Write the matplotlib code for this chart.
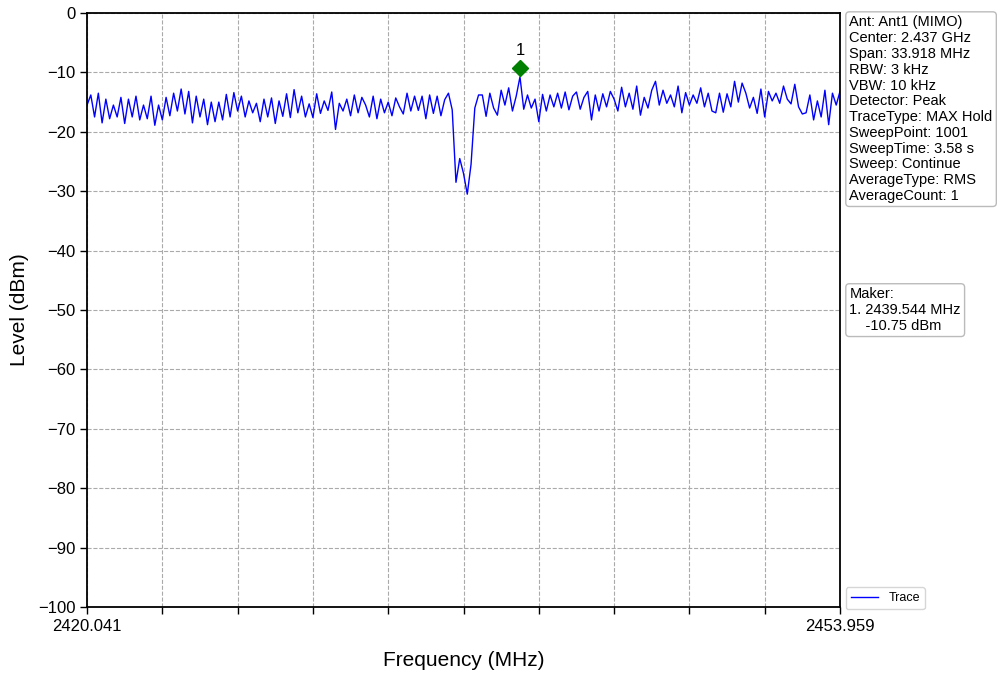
import numpy as np
import matplotlib.pyplot as plt

plt.rcParams['font.family'] = ['Liberation Sans', 'DejaVu Sans']

f_start = 2420.041
f_stop = 2453.959
# trace levels (dBm), every 5th sweep point
level = [
    -15.5, -13.8, -17.5, -13.5, -18.5, -14.5, -17.8, -15.5, -17.5, -14.2,
    -18.6, -14.5, -17.5, -14.0, -18.0, -15.5, -17.8, -14.0, -18.9, -15.5,
    -18.0, -14.2, -17.3, -13.5, -16.5, -12.8, -17.0, -13.2, -18.5, -14.0,
    -17.5, -14.5, -18.8, -15.0,
    -18.3, -15.0, -18.0, -13.7, -17.5, -13.4, -16.5, -14.0, -17.5, -14.8,
    -16.8, -15.2, -18.3, -14.5, -17.5, -14.3, -18.6, -14.8, -17.4, -13.6,
    -17.6, -12.9, -16.8, -14.0, -17.5, -15.3, -17.6, -13.6, -16.9, -14.8,
    -16.4, -13.3, -19.6, -15.2,
    -16.5, -14.5, -17.3, -13.8, -16.8, -14.2, -15.5, -17.5, -14.0, -17.8,
    -14.5, -16.8, -15.0, -17.3, -14.3, -15.8, -17.0, -13.5, -16.5, -14.0,
    -16.4, -14.0, -17.8, -13.8, -16.9, -14.0, -17.3, -14.6, -13.5, -16.3,
    -28.5, -24.5, -27.0,
    -30.5, -25.5, -16.0, -13.8,
    -13.8, -17.4, -13.5, -16.0, -17.2, -13.0, -15.5, -12.6, -16.5, -14.0,
    -10.75, -16.2, -13.8, -16.0, -14.5, -18.3, -13.7, -16.5, -13.8, -15.8,
    -13.5, -16.0, -13.3, -16.3, -14.0, -13.3, -16.2, -14.2, -13.2,
    -18.0, -13.8, -16.5, -13.6, -15.8, -13.2, -14.5, -16.5, -12.5, -15.8,
    -13.5, -16.2, -12.3, -17.2, -14.2, -16.0, -13.0, -11.5, -15.5, -13.0,
    -15.2, -13.8, -15.8, -12.3, -16.8, -13.4, -15.5, -13.8, -15.2, -12.6,
    -15.8, -13.5, -16.5,
    -16.8, -13.5, -16.7, -13.6, -15.8, -11.5, -15.0, -11.8, -13.5, -16.0,
    -14.2, -16.9, -12.8, -17.5, -13.2, -14.8, -13.5, -15.2, -12.3, -14.5,
    -15.3, -12.0, -15.8, -17.0, -16.8, -13.8, -18.0, -14.8, -17.5, -13.0,
    -18.8, -13.5, -15.5, -13.2,
]
freq = np.linspace(f_start, f_stop, len(level))

marker_freq = 2439.544
marker_level = -10.75

info = ["Ant: Ant1 (MIMO)", "Center: 2.437 GHz", "Span: 33.918 MHz",
        "RBW: 3 kHz", "VBW: 10 kHz", "Detector: Peak",
        "TraceType: MAX Hold", "SweepPoint: 1001", "SweepTime: 3.58 s",
        "Sweep: Continue", "AverageType: RMS", "AverageCount: 1"]

fig = plt.figure(figsize=(9.97, 6.73), dpi=100)
ax = fig.add_axes([0.0873, 0.098, 0.7552, 0.8827])

ax.plot(freq, level, color='blue', lw=1.0, label='Trace')
ax.plot([marker_freq], [marker_level + 1.5], marker='D', color='green',
        ms=8, ls='none')
ax.text(marker_freq, marker_level + 3.2, '1', ha='center', va='bottom',
        fontsize=12)

ax.set_xlim(f_start, f_stop)
ax.set_ylim(-100, 0)
ax.set_yticks(np.arange(-100, 1, 10))
xt = np.linspace(f_start, f_stop, 11)
ax.set_xticks(xt)
ax.set_xticklabels([f'{f_start:.3f}'] + [''] * 9 + [f'{f_stop:.3f}'])
ax.tick_params(labelsize=12, length=5, width=1)
ax.grid(True, ls='--', color='#aaaaaa', lw=0.8)
for s in ax.spines.values():
    s.set_linewidth(1.3)

ax.set_xlabel('Frequency (MHz)', fontsize=15, labelpad=12)
ax.set_ylabel('Level (dBm)', fontsize=15, labelpad=6)

box = dict(boxstyle='round,pad=0.25', fc='white', ec='#bbbbbb')
fig.text(0.852, 0.977, '\n'.join(info), ha='left', va='top', fontsize=10.5,
         linespacing=1.16, bbox=box)
fig.text(0.852, 0.573, 'Maker:\n1. %.3f MHz\n    %.2f dBm' % (marker_freq, marker_level),
         ha='left', va='top', fontsize=10.5, linespacing=1.16, bbox=box)

ax.legend(loc='lower left', bbox_to_anchor=(1.003, -0.01), fontsize=9,
          handlelength=2.2, borderaxespad=0.3)

fig.savefig('out.png', dpi=100)
